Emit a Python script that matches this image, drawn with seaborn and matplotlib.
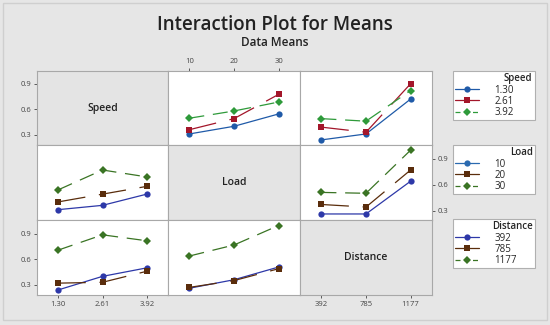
import pandas as pd
import numpy as np
import matplotlib
matplotlib.use("Agg")
import matplotlib.pyplot as plt
from matplotlib.lines import Line2D
from matplotlib.patches import Rectangle
import seaborn as sns

sns.set_theme(style="white")
plt.rcParams['font.family'] = ['Open Sans', 'DejaVu Sans']

# Factor levels
factors = ["Speed", "Load", "Distance"]
levels = {
    "Speed": ["1.30", "2.61", "3.92"],
    "Load": ["10", "20", "30"],
    "Distance": ["392", "785", "1177"],
}

# Means: (trace factor, x factor) -> one list per trace level
speed_by_load = [[0.31, 0.40, 0.545], [0.36, 0.49, 0.775], [0.495, 0.58, 0.685]]
speed_by_dist = [[0.24, 0.31, 0.72], [0.39, 0.33, 0.90], [0.49, 0.46, 0.82]]
load_by_speed = [[0.31, 0.36, 0.49], [0.40, 0.49, 0.58], [0.54, 0.77, 0.69]]
load_by_dist = [[0.26, 0.26, 0.64], [0.37, 0.34, 0.77], [0.51, 0.50, 1.00]]
dist_by_speed = [[0.24, 0.40, 0.50], [0.32, 0.33, 0.46], [0.71, 0.89, 0.82]]
dist_by_load = [[0.26, 0.36, 0.51], [0.27, 0.35, 0.49], [0.64, 0.77, 1.00]]

means = {
    ("Speed", "Load"): speed_by_load,
    ("Speed", "Distance"): speed_by_dist,
    ("Load", "Speed"): load_by_speed,
    ("Load", "Distance"): load_by_dist,
    ("Distance", "Speed"): dist_by_speed,
    ("Distance", "Load"): dist_by_load,
}

pal_speed = ["#1f5aa8", "#a3162a", "#2e9a3a"]
pal_other = ["#2d38a8", "#5a2d0c", "#3a7424"]
legend_pal = {
    "Speed": pal_speed,
    "Load": ["#2a6ab0", "#5a2d0c", "#3a7424"],
    "Distance": pal_other,
}
marker_list = ["o", "s", "D"]
dash_list = ["", (22, 11), (12, 7)]

W, H = 550, 325
fig = plt.figure(figsize=(W / 100, H / 100), dpi=100)
fig.patch.set_facecolor("#e6e6e6")
fig.add_artist(Rectangle((3 / W, 1 - 320 / H), 544 / W, 317 / H,
                         transform=fig.transFigure, fill=False,
                         edgecolor="#cfcfcf", lw=1))

fig.text(275 / W, 1 - 25 / H, "Interaction Plot for Means", ha="center",
         va="center", fontsize=13.5, fontweight="semibold", color="#222222")
fig.text(275 / W, 1 - 42 / H, "Data Means", ha="center", va="center",
         fontsize=8.5, fontweight="semibold", color="#222222")

xs = [37, 168, 300, 432]
ys = [71, 145, 220, 295]
ylims = [(0.18, 1.05), (0.19, 1.06), (0.18, 1.065)]
tick_kw = dict(labelsize=5.5, colors="#444444", length=2, width=0.6, pad=2)

for r, trace in enumerate(factors):
    for c, xf in enumerate(factors):
        ax = fig.add_axes([xs[c] / W, 1 - ys[r + 1] / H,
                           (xs[c + 1] - xs[c]) / W, (ys[r + 1] - ys[r]) / H])
        ax.set_xlim(-0.48, 2.48)
        ax.set_ylim(*ylims[r])
        ax.set_xticks([0, 1, 2])
        ax.set_xticklabels(levels[xf])
        ax.set_yticks([0.3, 0.6, 0.9])
        ax.set_yticklabels(["0.3", "0.6", "0.9"])
        for s in ax.spines.values():
            s.set_color("#a8a8a8")
            s.set_linewidth(0.8)
        if r == c:
            ax.set_facecolor("#e4e4e4")
            ax.text(0.5, 0.5, trace, transform=ax.transAxes, ha="center",
                    va="center", fontsize=7.5, fontweight="semibold",
                    color="#222222")
        else:
            ax.set_facecolor("white")
            vals = means[(trace, xf)]
            rows = []
            for i, lev in enumerate(levels[trace]):
                for j in range(3):
                    rows.append({"x": j, "mean": vals[i][j], "trace": lev})
            df = pd.DataFrame(rows)
            pal = pal_speed if r == 0 else pal_other
            sns.lineplot(data=df, x="x", y="mean", hue="trace", style="trace",
                         palette=dict(zip(levels[trace], pal)),
                         markers=dict(zip(levels[trace], marker_list)),
                         dashes=dict(zip(levels[trace], dash_list)),
                         markersize=4.5, markeredgewidth=0, linewidth=0.9,
                         legend=False, ax=ax)
        ax.set_xlabel("")
        ax.set_ylabel("")
        ax.tick_params(axis="both", which="both", bottom=False, top=False,
                       left=False, right=False, labelbottom=False,
                       labeltop=False, labelleft=False, labelright=False)
        # outer tick labels, Minitab style
        if r == 2 and c in (0, 2):
            ax.tick_params(axis="x", bottom=True, labelbottom=True, **tick_kw)
        if r == 0 and c == 1:
            ax.tick_params(axis="x", top=True, labeltop=True, **tick_kw)
        if c == 0 and r in (0, 2):
            ax.tick_params(axis="y", left=True, labelleft=True, **tick_kw)
        if c == 2 and r == 1:
            ax.tick_params(axis="y", right=True, labelright=True, **tick_kw)

# legends
leg_tops = [71, 145, 219]
for k, f in enumerate(factors):
    handles = [Line2D([], [], color=legend_pal[f][i], marker=marker_list[i],
                      markersize=4.5, markeredgewidth=0, lw=0.9,
                      linestyle="-" if i < 2 else (0, (4, 3)))
               for i in range(3)]
    leg = fig.legend(handles, levels[f], title=f,
                     bbox_to_anchor=(453 / W, 1 - leg_tops[k] / H - 0.2,
                                     82 / W, 0.2),
                     loc="upper left", mode="expand", fontsize=7,
                     title_fontsize=7, alignment="right", frameon=True,
                     fancybox=False, edgecolor="#b0b0b0", facecolor="white",
                     framealpha=1, borderpad=0.25, labelspacing=0.02,
                     handlelength=2.4, handletextpad=1.6, borderaxespad=0)
    leg.get_frame().set_linewidth(0.8)
    leg.get_title().set_fontweight("semibold")

fig.savefig("out.png", dpi=100, facecolor=fig.get_facecolor())
